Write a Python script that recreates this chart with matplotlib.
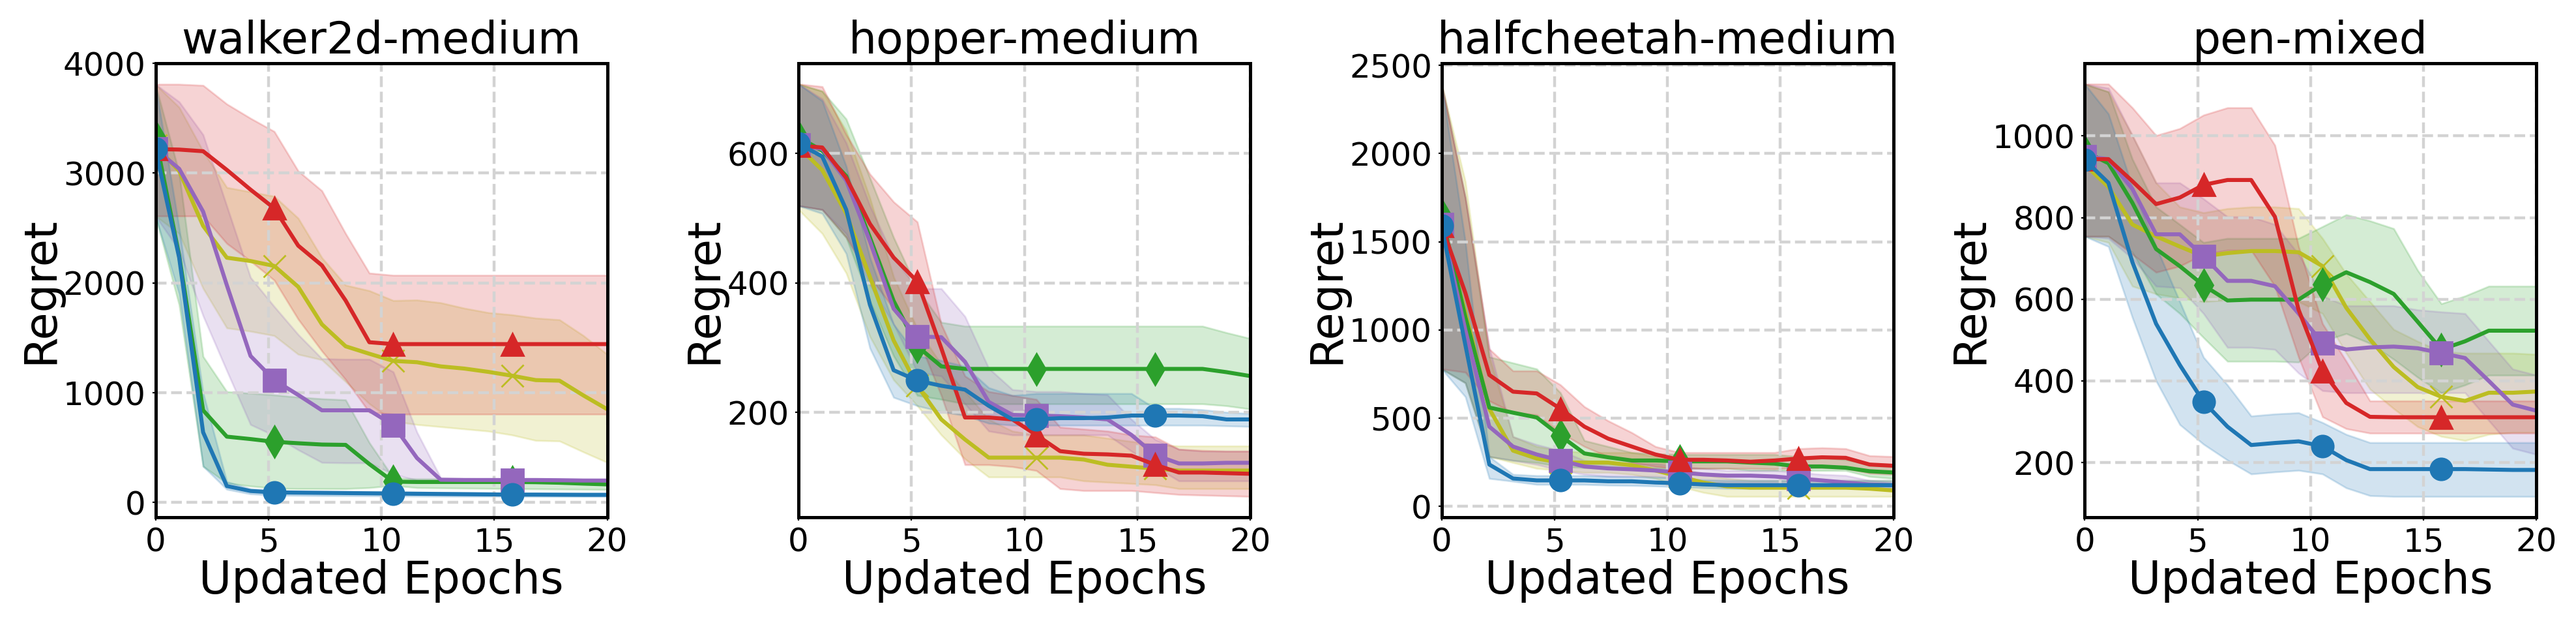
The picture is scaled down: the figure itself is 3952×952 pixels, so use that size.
import matplotlib
matplotlib.use("Agg")
import matplotlib.pyplot as plt

# ---------------- data ----------------
epochs = [0.0, 1.05, 2.11, 3.16, 4.21, 5.26, 6.32, 7.37, 8.42, 9.47,
          10.53, 11.58, 12.63, 13.68, 14.74, 15.79, 16.84, 17.89, 18.95, 20.0]

panel_titles = ["walker2d-medium", "hopper-medium", "halfcheetah-medium", "pen-mixed"]
method_names = ["olive", "green", "purple", "red", "blue"]

# walker2d-medium
walker_olive_mean = [3250, 3020, 2520, 2230, 2200, 2155, 1965, 1623, 1423, 1355, 1290, 1278, 1240, 1220, 1190, 1155, 1115, 1110, 975, 850]
walker_olive_hi = [3810, 3600, 3200, 2870, 2830, 2790, 2590, 2230, 1980, 1930, 1840, 1845, 1820, 1770, 1730, 1710, 1680, 1665, 1520, 1350]
walker_olive_lo = [2610, 2450, 1950, 1590, 1560, 1520, 1350, 1300, 1100, 900, 740, 710, 690, 670, 650, 615, 565, 560, 460, 365]
walker_green_mean = [3330, 2250, 840, 600, 578, 553, 540, 528, 525, 350, 190, 187, 187, 187, 187, 187, 185, 180, 172, 165]
walker_green_hi = [3810, 3000, 1330, 1010, 995, 980, 960, 945, 935, 545, 225, 215, 215, 215, 215, 215, 212, 210, 205, 200]
walker_green_lo = [2610, 1800, 330, 177, 150, 130, 126, 126, 126, 135, 155, 135, 133, 130, 128, 126, 124, 122, 120, 118]
walker_purple_mean = [3220, 3040, 2650, 1980, 1335, 1115, 980, 840, 840, 840, 705, 405, 207, 205, 205, 205, 205, 203, 200, 200]
walker_purple_hi = [3810, 3650, 3350, 2700, 2050, 1785, 1530, 1310, 1305, 1305, 1190, 640, 225, 218, 216, 215, 215, 214, 212, 210]
walker_purple_lo = [2610, 2300, 1700, 1200, 710, 610, 480, 365, 361, 361, 260, 200, 185, 182, 181, 180, 180, 180, 180, 180]
walker_red_mean = [3220, 3215, 3200, 3030, 2850, 2680, 2340, 2160, 1840, 1460, 1443, 1443, 1443, 1443, 1443, 1443, 1443, 1443, 1443, 1443]
walker_red_hi = [3810, 3810, 3800, 3630, 3500, 3380, 3020, 2840, 2450, 2090, 2070, 2070, 2070, 2070, 2070, 2070, 2070, 2070, 2070, 2070]
walker_red_lo = [2610, 2610, 2610, 2360, 2200, 2025, 1670, 1380, 1120, 822, 805, 805, 805, 805, 805, 805, 805, 805, 805, 805]
walker_blue_mean = [3220, 2230, 640, 150, 105, 92, 90, 88, 86, 84, 82, 80, 78, 76, 74, 72, 72, 71, 70, 70]
walker_blue_hi = [3810, 2500, 1000, 190, 125, 110, 105, 102, 100, 98, 96, 94, 92, 90, 88, 86, 86, 85, 84, 84]
walker_blue_lo = [2610, 1900, 330, 120, 78, 66, 64, 62, 61, 60, 59, 58, 57, 56, 56, 55, 55, 55, 55, 55]

# hopper-medium
hopper_olive_mean = [610, 574, 507, 409, 311, 241, 189, 158, 130, 130, 130, 130, 127, 119, 116, 113, 110, 110, 110, 110]
hopper_olive_hi = [707, 696, 635, 531, 409, 329, 274, 232, 189, 171, 165, 165, 165, 160, 155, 150, 148, 148, 148, 148]
hopper_olive_lo = [513, 476, 415, 317, 250, 210, 165, 128, 100, 100, 100, 100, 94, 92, 90, 88, 82, 82, 82, 82]
hopper_green_mean = [625, 604, 565, 470, 372, 302, 271, 267, 267, 267, 267, 267, 267, 267, 267, 267, 267, 267, 262, 256]
hopper_green_hi = [707, 696, 653, 562, 470, 391, 339, 333, 333, 333, 333, 333, 333, 333, 333, 333, 333, 333, 323, 314]
hopper_green_lo = [519, 513, 470, 372, 287, 226, 220, 213, 213, 213, 213, 213, 213, 213, 213, 213, 213, 213, 210, 205]
hopper_purple_mean = [613, 607, 558, 464, 360, 317, 316, 278, 216, 196, 195, 194, 192, 189, 165, 134, 121, 121, 122, 122]
hopper_purple_hi = [707, 684, 616, 519, 439, 391, 391, 348, 268, 235, 232, 232, 229, 227, 189, 158, 143, 140, 140, 140]
hopper_purple_lo = [519, 513, 476, 397, 336, 262, 256, 213, 171, 165, 165, 165, 165, 165, 140, 116, 94, 94, 94, 94]
hopper_red_mean = [612, 609, 562, 491, 439, 402, 299, 192, 192, 189, 165, 140, 136, 135, 133, 119, 107, 107, 106, 105]
hopper_red_hi = [707, 703, 629, 568, 525, 494, 336, 256, 232, 226, 220, 177, 174, 171, 165, 162, 143, 141, 140, 140]
hopper_red_lo = [519, 513, 470, 409, 360, 317, 226, 119, 119, 116, 110, 82, 79, 79, 79, 76, 73, 72, 71, 70]
hopper_blue_mean = [615, 595, 513, 366, 265, 249, 241, 235, 210, 189, 189, 191, 191, 192, 195, 195, 195, 194, 189, 189]
hopper_blue_hi = [707, 681, 580, 439, 336, 287, 280, 271, 238, 226, 229, 229, 229, 229, 229, 206, 206, 204, 200, 198]
hopper_blue_lo = [519, 507, 445, 299, 223, 210, 201, 195, 183, 180, 180, 180, 180, 180, 180, 180, 180, 180, 179, 178]

# halfcheetah-medium
cheetah_olive_mean = [1600, 1100, 553, 316, 271, 248, 248, 248, 233, 203, 169, 135, 113, 106, 106, 106, 106, 106, 100, 90]
cheetah_olive_hi = [2394, 1840, 850, 395, 339, 316, 305, 305, 305, 282, 226, 181, 158, 147, 147, 147, 147, 147, 147, 147]
cheetah_olive_lo = [779, 700, 282, 248, 215, 203, 192, 192, 181, 158, 113, 79, 56, 56, 56, 56, 56, 56, 56, 56]
cheetah_green_mean = [1650, 1073, 560, 531, 504, 400, 300, 278, 260, 260, 255, 255, 255, 248, 242, 226, 226, 219, 199, 192]
cheetah_green_hi = [2394, 1750, 847, 813, 779, 644, 373, 339, 305, 298, 294, 294, 294, 294, 294, 282, 278, 264, 242, 237]
cheetah_green_lo = [779, 700, 282, 260, 248, 226, 219, 215, 215, 215, 215, 215, 215, 203, 203, 203, 203, 203, 169, 158]
cheetah_purple_mean = [1600, 1000, 452, 339, 294, 260, 226, 215, 210, 203, 192, 181, 174, 174, 169, 158, 147, 135, 124, 120]
cheetah_purple_hi = [2394, 1750, 900, 395, 350, 316, 260, 248, 245, 242, 226, 215, 203, 203, 203, 192, 181, 175, 147, 135]
cheetah_purple_lo = [779, 700, 282, 260, 237, 203, 181, 169, 169, 169, 158, 135, 135, 135, 135, 124, 122, 106, 104, 97]
cheetah_red_mean = [1590, 1210, 745, 650, 640, 553, 452, 384, 339, 294, 264, 264, 260, 253, 260, 271, 278, 275, 237, 230]
cheetah_red_hi = [2394, 1750, 892, 768, 768, 689, 565, 485, 418, 339, 305, 305, 305, 305, 305, 327, 332, 327, 287, 282]
cheetah_red_lo = [779, 760, 598, 531, 519, 418, 339, 282, 248, 226, 215, 215, 215, 215, 212, 219, 219, 215, 187, 181]
cheetah_blue_mean = [1590, 915, 237, 158, 147, 147, 147, 142, 142, 135, 131, 124, 120, 120, 120, 120, 120, 120, 120, 120]
cheetah_blue_hi = [2394, 1500, 282, 181, 174, 174, 174, 170, 168, 165, 160, 150, 147, 147, 147, 147, 147, 147, 147, 147]
cheetah_blue_lo = [779, 621, 158, 142, 124, 124, 124, 120, 118, 115, 110, 105, 101, 101, 101, 101, 101, 101, 101, 101]

# pen-mixed
pen_olive_mean = [930, 875, 783, 754, 729, 705, 713, 718, 718, 715, 681, 579, 502, 434, 385, 361, 351, 371, 371, 374]
pen_olive_hi = [1127, 1108, 1001, 885, 826, 812, 822, 826, 826, 822, 749, 662, 594, 526, 497, 472, 468, 468, 468, 465]
pen_olive_lo = [754, 739, 632, 613, 603, 594, 598, 603, 603, 594, 565, 468, 380, 332, 288, 264, 254, 269, 274, 274]
pen_green_mean = [962, 933, 836, 723, 681, 634, 597, 599, 599, 599, 637, 666, 642, 613, 545, 477, 497, 523, 523, 523]
pen_green_hi = [1127, 1108, 943, 826, 783, 739, 749, 749, 749, 749, 778, 807, 792, 773, 671, 589, 608, 632, 632, 632]
pen_green_lo = [754, 754, 715, 613, 565, 506, 448, 448, 448, 446, 497, 516, 492, 453, 409, 371, 390, 414, 414, 414]
pen_purple_mean = [950, 943, 870, 759, 759, 705, 645, 645, 632, 565, 492, 477, 482, 484, 480, 468, 456, 400, 342, 327]
pen_purple_hi = [1127, 1117, 1001, 885, 885, 846, 802, 802, 783, 710, 608, 584, 584, 584, 574, 569, 565, 497, 429, 414]
pen_purple_lo = [754, 749, 700, 632, 628, 565, 482, 482, 477, 419, 376, 371, 371, 371, 371, 371, 371, 303, 235, 220]
pen_red_mean = [943, 943, 889, 833, 849, 880, 892, 892, 802, 574, 424, 346, 312, 311, 311, 311, 311, 311, 311, 311]
pen_red_hi = [1127, 1127, 1069, 1001, 1018, 1051, 1069, 1069, 977, 729, 540, 448, 351, 351, 351, 351, 351, 351, 351, 351]
pen_red_lo = [754, 754, 710, 666, 681, 710, 720, 720, 632, 458, 312, 283, 272, 272, 272, 272, 272, 272, 272, 272]
pen_blue_mean = [941, 885, 691, 540, 439, 349, 288, 243, 248, 252, 240, 206, 184, 184, 184, 184, 184, 183, 182, 182]
pen_blue_hi = [1127, 1054, 875, 729, 594, 458, 390, 314, 319, 322, 298, 269, 249, 249, 249, 249, 249, 249, 249, 249]
pen_blue_lo = [754, 729, 555, 400, 293, 245, 206, 172, 177, 181, 172, 138, 119, 117, 117, 117, 117, 117, 117, 117]

x_ticks = [0, 5, 10, 15, 20]
y_ticks = [[0, 1000, 2000, 3000, 4000], [200, 400, 600],
           [0, 500, 1000, 1500, 2000, 2500], [200, 400, 600, 800, 1000]]

panels = [
    [(walker_olive_mean, walker_olive_lo, walker_olive_hi),
     (walker_green_mean, walker_green_lo, walker_green_hi),
     (walker_purple_mean, walker_purple_lo, walker_purple_hi),
     (walker_red_mean, walker_red_lo, walker_red_hi),
     (walker_blue_mean, walker_blue_lo, walker_blue_hi)],
    [(hopper_olive_mean, hopper_olive_lo, hopper_olive_hi),
     (hopper_green_mean, hopper_green_lo, hopper_green_hi),
     (hopper_purple_mean, hopper_purple_lo, hopper_purple_hi),
     (hopper_red_mean, hopper_red_lo, hopper_red_hi),
     (hopper_blue_mean, hopper_blue_lo, hopper_blue_hi)],
    [(cheetah_olive_mean, cheetah_olive_lo, cheetah_olive_hi),
     (cheetah_green_mean, cheetah_green_lo, cheetah_green_hi),
     (cheetah_purple_mean, cheetah_purple_lo, cheetah_purple_hi),
     (cheetah_red_mean, cheetah_red_lo, cheetah_red_hi),
     (cheetah_blue_mean, cheetah_blue_lo, cheetah_blue_hi)],
    [(pen_olive_mean, pen_olive_lo, pen_olive_hi),
     (pen_green_mean, pen_green_lo, pen_green_hi),
     (pen_purple_mean, pen_purple_lo, pen_purple_hi),
     (pen_red_mean, pen_red_lo, pen_red_hi),
     (pen_blue_mean, pen_blue_lo, pen_blue_hi)],
]

# ---------------- style ----------------
colors = {"olive": "#bcbd22", "green": "#2ca02c", "purple": "#9467bd",
          "red": "#d62728", "blue": "#1f77b4"}
markers = {"olive": "x", "green": "d", "purple": "s", "red": "^", "blue": "o"}

plt.rcParams["font.family"] = ["DejaVu Sans"]

W, H, DPI = 3952, 952, 200
fig = plt.figure(figsize=(W / DPI, H / DPI), dpi=DPI)

ax_left0 = 238.5 / W
ax_step = 986.6 / W
ax_w = 693.0 / W
ax_bottom = (H - 792.7) / H
ax_h = 695.5 / H

for p in range(4):
    ax = fig.add_axes([ax_left0 + p * ax_step, ax_bottom, ax_w, ax_h])
    for name, (mean, lo, hi) in zip(method_names, panels[p]):
        c = colors[name]
        ax.plot(epochs, mean, color=c, lw=2.2, marker=markers[name],
                markersize=12, markevery=5,
                markeredgewidth=1.0)
        ax.fill_between(epochs, lo, hi, color=c, alpha=0.2)
    ax.set_xlim(0, 20)
    ax.set_xticks(x_ticks)
    ax.set_yticks(y_ticks[p])
    ax.grid(True, linestyle="--", color="#d3d3d3", lw=1.6)
    for s in ax.spines.values():
        s.set_linewidth(1.8)
        s.set_color("black")
    ax.tick_params(labelsize=18, length=1.8, width=0.8, pad=3.5)
    ax.set_title(panel_titles[p], fontsize=24.5, pad=5.5)
    ax.set_xlabel("Updated Epochs", fontsize=24.7, labelpad=0.5)
    ax.set_ylabel("Regret", fontsize=24.7, labelpad=0.5)

fig.savefig("out.png", dpi=DPI)
